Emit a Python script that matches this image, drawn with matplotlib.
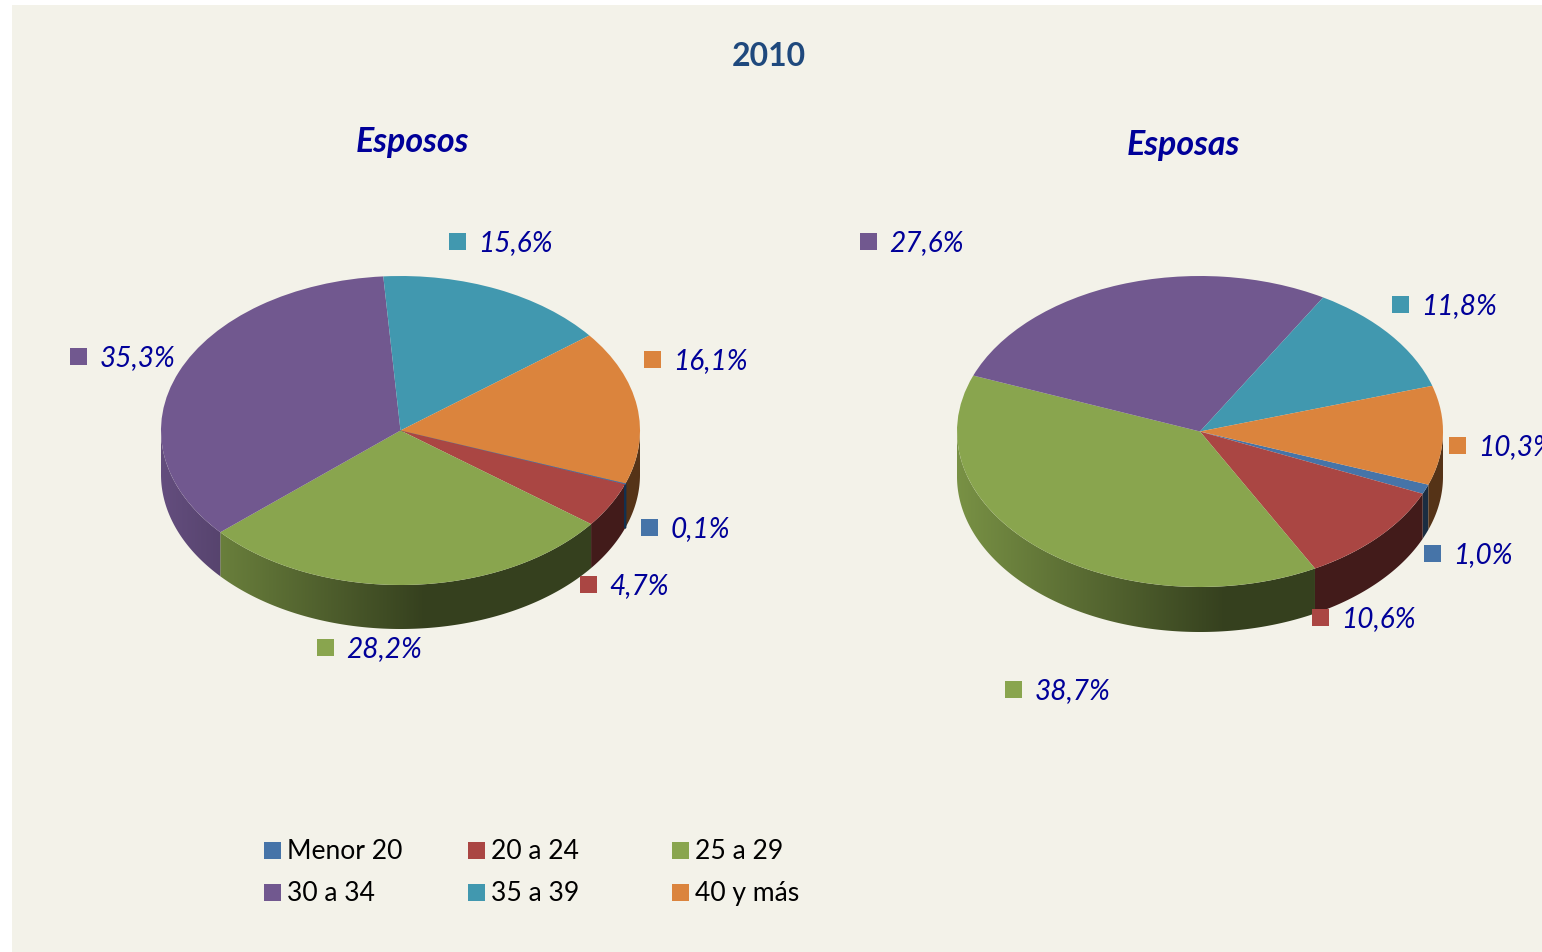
import numpy as np
import matplotlib
matplotlib.use("Agg")
import matplotlib.pyplot as plt
from matplotlib.colors import to_rgb
from matplotlib.patches import Polygon, Rectangle

# ---- data ----
categories = ["Menor 20", "20 a 24", "25 a 29", "30 a 34", "35 a 39", "40 y más"]
esposos = [0.1, 4.7, 28.2, 35.3, 15.6, 16.1]
esposas = [1.0, 10.6, 38.7, 27.6, 11.8, 10.3]
main_title = "2010"
left_title = "Esposos"
right_title = "Esposas"

# ---- styles and layout (pixels) ----
W, H = 1542, 952
colors = ["#4674A8", "#AA4643", "#89A54E", "#71588F", "#4198AF", "#DB843D"]
BG = "#F3F2E9"
LABEL = "#000099"
FONT = ["Lato", "DejaVu Sans"]
px = 0.72  # pixels to points at dpi 100
START = -20.0

left_geom = dict(cx=400.5, cy=430.5, rx=239.5, ry=154.5, depth=44)
right_geom = dict(cx=1200, cy=431.5, rx=243, ry=155.5, depth=45)
left_keys = [(649.5, 527.5), (588.5, 584.5), (325.5, 647.5), (78.5, 356.5), (457.5, 241.5), (652.5, 359.5)]
right_keys = [(1432.5, 553.5), (1320.5, 617.5), (1013.5, 689.5), (868.5, 241.5), (1400.5, 304.5), (1457.5, 445.5)]

plt.rcParams["font.family"] = FONT
fig = plt.figure(figsize=(W / 100, H / 100), dpi=100, facecolor="white")

ov = fig.add_axes([0, 0, 1, 1], zorder=5)
ov.set_xlim(0, W)
ov.set_ylim(H, 0)
ov.axis("off")
ov.patch.set_alpha(0)

bgax = fig.add_axes([0, 0, 1, 1], zorder=0)
bgax.set_xlim(0, W)
bgax.set_ylim(H, 0)
bgax.axis("off")
bgax.add_patch(Rectangle((12, 5), W - 12, H - 5, facecolor=BG, edgecolor="none"))


def pie3d(values, g):
    d = g["depth"] / g["ry"]
    # the axes reach below the ellipse so that the side wall lies inside them
    ax = fig.add_axes([(g["cx"] - g["rx"]) / W, 1 - (g["cy"] + g["ry"] + g["depth"] + 2) / H,
                       2 * g["rx"] / W, (2 * g["ry"] + g["depth"] + 2) / H], zorder=2)
    wedges, _ = ax.pie(values, colors=colors, startangle=START, counterclock=False,
                       wedgeprops=dict(linewidth=0))
    frac = np.asarray(values, float) / np.sum(values)
    edges = START - 360 * np.concatenate([[0], np.cumsum(frac)])
    xs = np.linspace(-1, 1, 700)
    shade = np.interp(xs, [-1, 0.1], [0.88, 0.39])
    for i, col in enumerate(colors):
        hi, lo = edges[i], edges[i + 1]
        if frac[i] < 0.003:
            wedges[i].set_edgecolor(col)
            wedges[i].set_linewidth(0.8)
        angs = np.linspace(lo, hi, 300)
        angs = np.union1d(angs, [a for a in (-360.0, -180.0) if lo < a < hi])
        angs = angs[np.sin(np.radians(angs)) <= 1e-9]
        if len(angs) < 2:
            continue
        cs, sn = np.cos(np.radians(angs)), np.sin(np.radians(angs))
        pts = np.r_[np.c_[cs, sn], np.c_[cs, sn - d][::-1]]
        base = np.array(to_rgb(col))
        img = (shade[:, None] * base)[None, :, :]
        poly = Polygon(pts, closed=True, transform=ax.transData, facecolor="none", edgecolor="none")
        ax.add_patch(poly)
        im = ax.imshow(img, extent=(-1, 1, -1 - d, 0), aspect="auto", origin="lower",
                       interpolation="bilinear", zorder=0.5)
        im.set_clip_path(poly)
        if frac[i] < 0.003:  # a sliver too thin for the gradient: stroke it
            ax.add_patch(Polygon(pts, closed=True, facecolor="#12304F", edgecolor="#12304F",
                                 linewidth=1.2, zorder=0.6))
    ax.set_aspect("auto")
    ax.set_xlim(-1, 1)
    ax.set_ylim(-1 - d - 2 / g["ry"], 1)
    ax.axis("off")
    return ax


pie3d(esposos, left_geom)
pie3d(esposas, right_geom)


def labels(values, keys):
    for v, (kx, ky), col in zip(values, keys, colors):
        ov.add_patch(Rectangle((kx - 8.5, ky - 8.5), 17, 17, facecolor=col, edgecolor="none"))
        ov.text(kx + 21, ky + 2, f"{v:.1f}%".replace(".", ","), fontsize=28 * px,
                style="italic", color=LABEL, va="center", ha="left", clip_on=False)


labels(esposos, left_keys)
labels(esposas, right_keys)

ov.text(769, 57, main_title, fontsize=32 * px, fontweight="bold", color="#1F497D",
        ha="center", va="center")
ov.text(412, 142, left_title, fontsize=34 * px, fontweight="bold", style="italic",
        color=LABEL, ha="center", va="center")
ov.text(1183, 145, right_title, fontsize=34 * px, fontweight="bold", style="italic",
        color=LABEL, ha="center", va="center")

# legend: three columns, two rows, filled row by row
for i, (name, col) in enumerate(zip(categories, colors)):
    x = 264 + 204 * (i % 3)
    y = 850.5 + 42 * (i // 3)
    ov.add_patch(Rectangle((x, y - 8.5), 17, 17, facecolor=col, edgecolor="none"))
    ov.text(x + 23, y + 1, name, fontsize=26.5 * px, color="black", va="center", ha="left")

fig.savefig("out.png", dpi=100, facecolor="white")
